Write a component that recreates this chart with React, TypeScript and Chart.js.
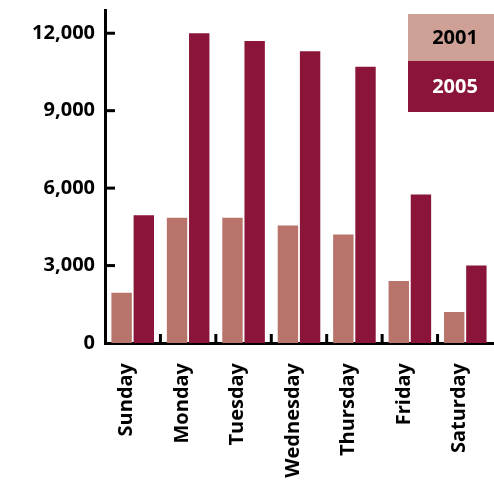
import React, { useEffect, useRef } from "react";
import { Chart, registerables } from "chart.js";

Chart.register(...registerables);

const categories = ["Sunday", "Monday", "Tuesday", "Wednesday", "Thursday", "Friday", "Saturday"];
const values2001 = [1950, 4850, 4850, 4550, 4200, 2400, 1200];
const values2005 = [4950, 12000, 11700, 11300, 10700, 5750, 3000];
const yTicks = [0, 3000, 6000, 9000, 12000];
const seriesLabels = ["2001", "2005"];

const FONT = "'Open Sans', sans-serif";

const decorPlugin = {
  id: "decor",
  afterDraw(chart: any) {
    const ctx = chart.ctx;
    const x = chart.scales.x;
    const y = chart.scales.y;
    ctx.save();
    ctx.strokeStyle = "#000";
    ctx.lineWidth = 3;
    yTicks.forEach((v) => {
      if (v === 0) return;
      const py = y.getPixelForValue(v);
      ctx.beginPath();
      ctx.moveTo(x.left, py);
      ctx.lineTo(x.left + 10, py);
      ctx.stroke();
    });
    for (let i = 1; i < categories.length; i++) {
      const px = (x.getPixelForTick(i - 1) + x.getPixelForTick(i)) / 2;
      ctx.beginPath();
      ctx.moveTo(px, y.bottom);
      ctx.lineTo(px, y.bottom - 9);
      ctx.stroke();
    }
    const boxes = [
      { label: seriesLabels[0], fill: "#CFA196", text: "#000", top: 14, h: 47 },
      { label: seriesLabels[1], fill: "#8A1538", text: "#fff", top: 61, h: 51 },
    ];
    boxes.forEach((b) => {
      ctx.fillStyle = b.fill;
      ctx.fillRect(408, b.top, 86, b.h);
      ctx.fillStyle = b.text;
      ctx.font = `bold 20px ${FONT}`;
      ctx.textAlign = "center";
      ctx.textBaseline = "middle";
      ctx.fillText(b.label, 455, b.top + b.h / 2 + 1);
    });
    ctx.restore();
  },
};

export default function App() {
  const ref = useRef<HTMLCanvasElement | null>(null);
  useEffect(() => {
    document.body.style.margin = "0";
    const chart = new Chart(ref.current as HTMLCanvasElement, {
      type: "bar",
      data: {
        labels: categories,
        datasets: [
          {
            label: seriesLabels[0],
            data: values2001,
            backgroundColor: "#B8736B",
            categoryPercentage: 0.8,
            barPercentage: 0.92,
          },
          {
            label: seriesLabels[1],
            data: values2005,
            backgroundColor: "#8A1538",
            categoryPercentage: 0.8,
            barPercentage: 0.92,
          },
        ],
      },
      options: {
        animation: false,
        responsive: false,
        maintainAspectRatio: false,
        layout: { padding: { top: 10, right: 1, left: 0, bottom: 0 } },
        plugins: { legend: { display: false }, tooltip: { enabled: false } },
        scales: {
          x: {
            grid: { display: false, drawTicks: false },
            border: { display: true, color: "#000", width: 3 },
            ticks: {
              color: "#000",
              font: { family: FONT, size: 20, weight: "bold" },
              minRotation: 90,
              maxRotation: 90,
              padding: 20,
              labelOffset: -6,
            },
            afterFit(s: any) {
              s.height = 138;
              s.paddingLeft = 0;
              s.paddingRight = 0;
            },
          },
          y: {
            min: 0,
            max: 12900,
            grid: { display: false, drawTicks: false },
            border: { display: true, color: "#000", width: 3 },
            afterBuildTicks(s: any) {
              s.ticks = yTicks.map((v) => ({ value: v }));
            },
            ticks: {
              color: "#000",
              font: { family: FONT, size: 20, weight: "bold" },
              padding: 10,
              callback: (v: any) => Number(v).toLocaleString("en-US"),
            },
            afterFit(s: any) {
              s.width = 105;
              s.paddingTop = 0;
              s.paddingBottom = 0;
            },
          },
        },
      },
      plugins: [decorPlugin],
    });
    return () => chart.destroy();
  }, []);
  return <canvas ref={ref} width={494} height={481} style={{ display: "block" }} />;
}
